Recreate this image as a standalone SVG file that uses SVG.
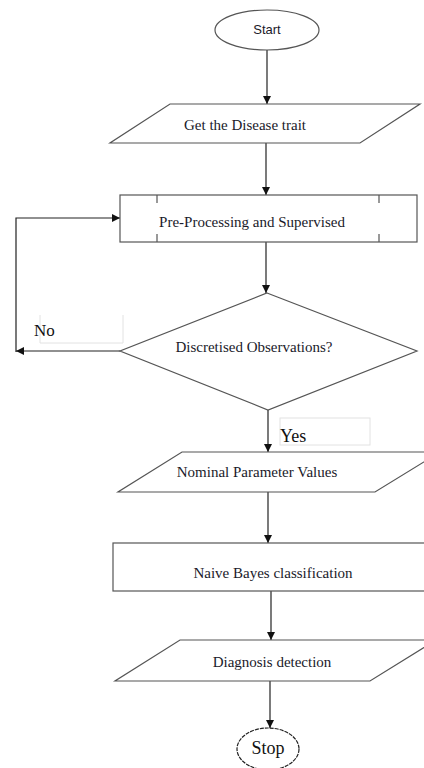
<svg xmlns="http://www.w3.org/2000/svg" width="424" height="768" viewBox="0 0 424 768">
<defs>
<marker id="ah" viewBox="0 0 10 10" refX="10" refY="5" markerWidth="8" markerHeight="8" markerUnits="userSpaceOnUse" orient="auto">
<path d="M0,0 L10,5 L0,10 z" fill="#111"/>
</marker>
<style>
.shape{fill:#fff;stroke:#555;stroke-width:1.2}
.conn{fill:none;stroke:#222;stroke-width:1.2}
.lbl{font-family:"Liberation Serif","Times New Roman",serif;font-size:15px;fill:#1a1a2a;text-anchor:middle;dominant-baseline:central}
.faint{fill:none;stroke:#e2e2e2;stroke-width:1}
</style>
</defs>
<rect width="424" height="768" fill="#fff"/>
<g id="connectors">
<line class="conn" x1="267" y1="50" x2="267" y2="104" marker-end="url(#ah)"/>
<line class="conn" x1="266" y1="143" x2="266" y2="195" marker-end="url(#ah)"/>
<line class="conn" x1="266" y1="242" x2="266" y2="293" marker-end="url(#ah)"/>
<polyline class="conn" points="120,351 16,351" marker-end="url(#ah)"/>
<polyline class="conn" points="16,352 16,218 120,218" marker-end="url(#ah)"/>
<line class="conn" x1="268" y1="410" x2="268" y2="452" marker-end="url(#ah)"/>
<line class="conn" x1="268" y1="492" x2="268" y2="543" marker-end="url(#ah)"/>
<line class="conn" x1="271" y1="591" x2="271" y2="640" marker-end="url(#ah)"/>
<line class="conn" x1="270" y1="681" x2="270" y2="728" marker-end="url(#ah)"/>
</g>
<g id="start">
<ellipse class="shape" cx="267" cy="30" rx="52" ry="20"/>
<text x="267" y="29" style="font-family:'Liberation Sans',Arial,sans-serif;font-size:13px;fill:#1a1a2a;text-anchor:middle;dominant-baseline:central">Start</text>
</g>
<g id="get-trait">
<polygon class="shape" points="170,104 420,104 360,143 110,143"/>
<text class="lbl" x="245" y="125">Get the Disease trait</text>
</g>
<g id="preprocessing">
<rect class="shape" x="120" y="195" width="297" height="47"/>
<line class="shape" x1="157" y1="195" x2="157" y2="203"/>
<line class="shape" x1="157" y1="234" x2="157" y2="242"/>
<line class="shape" x1="379" y1="195" x2="379" y2="203"/>
<line class="shape" x1="379" y1="234" x2="379" y2="242"/>
<text class="lbl" x="252" y="222">Pre-Processing and Supervised</text>
</g>
<g id="decision">
<polygon class="shape" points="267,293 417,351 268,410 120,351"/>
<text class="lbl" x="254" y="347">Discretised Observations?</text>
</g>
<g id="no-label">
<polyline class="faint" points="40,315 40,343 123,343 123,315"/>
<text x="34" y="330" style="font-family:'Liberation Serif','Times New Roman',serif;font-size:17px;fill:#111;dominant-baseline:central">No</text>
</g>
<g id="yes-label">
<rect class="faint" x="280" y="418" width="90" height="27"/>
<text x="280" y="436" style="font-family:'Liberation Serif','Times New Roman',serif;font-size:18px;fill:#111;dominant-baseline:central">Yes</text>
</g>
<g id="nominal">
<polygon class="shape" points="182,452 440,452 375,492 118,492"/>
<text class="lbl" x="257" y="472">Nominal Parameter Values</text>
</g>
<g id="naive-bayes">
<rect class="shape" x="113" y="543" width="320" height="48"/>
<text class="lbl" x="273" y="573">Naive Bayes classification</text>
</g>
<g id="diagnosis">
<polygon class="shape" points="180,640 436,640 370,681 115,681"/>
<text class="lbl" x="272" y="662">Diagnosis detection</text>
</g>
<g id="stop">
<ellipse class="shape" cx="268" cy="749" rx="31" ry="21" style="stroke:#222;stroke-dasharray:4 1"/>
<text x="268" y="748" style="font-family:'Liberation Serif','Times New Roman',serif;font-size:18px;fill:#111;text-anchor:middle;dominant-baseline:central">Stop</text>
</g>
</svg>
